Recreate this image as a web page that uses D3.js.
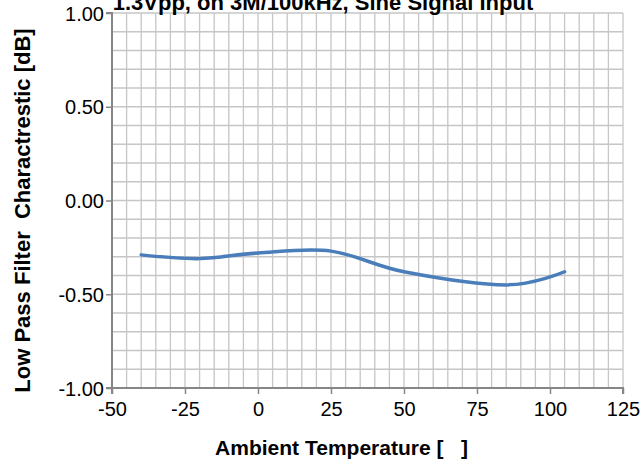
<!DOCTYPE html>
<html>
<head>
<meta charset="utf-8">
<script src="https://cdn.jsdelivr.net/npm/d3@7"></script>
<style>
  body { margin: 0; background: #fff; }
  svg { display: block; font-family: "Liberation Sans", Arial, sans-serif; }
</style>
</head>
<body>
<script>
(function (d3) {
    'use strict';

    // temperatures [°C] and measured response [dB]
    var temps = [-40, -20, 0, 25, 50, 85, 105];
    var gains = [-0.29, -0.31, -0.28, -0.27, -0.38, -0.45, -0.38];

    var xTicks = [-50, -25, 0, 25, 50, 75, 100, 125];
    var yTicks = [-1.0, -0.5, 0.0, 0.5, 1.0];

    var chartTitle = "1.3Vpp, on 3M/100kHz, Sine Signal Input";
    var xTitle = "Ambient Temperature [\u00a0\u00a0\u00a0]";
    var yTitle = "Low Pass Filter\u00a0\u00a0Charactrestic [dB]";

    const W = 644, H = 466;
    const margin = { top: 13, right: 21, bottom: 78, left: 112 };
    const width = W - margin.left - margin.right;
    const height = H - margin.top - margin.bottom;

    var x = d3.scaleLinear().domain([-50, 125]).range([0, width]);
    var y = d3.scaleLinear().domain([-1, 1]).range([height, 0]);

    var svg = d3.select("body").append("svg")
        .attr("width", W)
        .attr("height", H);

    var g = svg.append("g")
        .attr("transform", "translate(" + margin.left + "," + margin.top + ")");

    // grid, every 5 degrees and every 0.1 dB
    g.append("g")
        .attr("stroke", "#c6c6c6")
        .attr("stroke-width", 1.3)
        .selectAll("line")
        .data(d3.range(-45, 126, 5))
        .enter().append("line")
        .attr("x1", function (d) { return x(d); })
        .attr("x2", function (d) { return x(d); })
        .attr("y1", 0)
        .attr("y2", height);

    g.append("g")
        .attr("stroke", "#c6c6c6")
        .attr("stroke-width", 1.3)
        .selectAll("line")
        .data(d3.range(-9, 11).map(function (i) { return i / 10; }))
        .enter().append("line")
        .attr("x1", 0)
        .attr("x2", width)
        .attr("y1", function (d) { return y(d); })
        .attr("y2", function (d) { return y(d); });

    // plain hyphen for negatives, like the original sheet
    var fmt2 = function (d) { return d3.format(".2f")(d).replace("\u2212", "-"); };
    var fmt0 = function (d) { return String(d); };

    var xAxis = g.append("g")
        .attr("transform", "translate(0," + height + ")")
        .call(d3.axisBottom(x).tickValues(xTicks).tickSize(6).tickPadding(8)
            .tickFormat(fmt0));

    var yAxis = g.append("g")
        .call(d3.axisLeft(y).tickValues(yTicks).tickSize(6).tickPadding(2)
            .tickFormat(fmt2));

    [xAxis, yAxis].forEach(function (a) {
        a.select(".domain").attr("stroke", "#868686").attr("stroke-width", 2);
        a.selectAll(".tick line").attr("stroke", "#868686").attr("stroke-width", 1.5);
        a.selectAll("text")
            .attr("fill", "#000")
            .style("font-size", "20px")
            .style("font-family", "Liberation Sans, Arial, sans-serif");
    });
    yAxis.selectAll("text").attr("dy", "0.35em");
    xAxis.select(".domain").attr("d", "M0,6V0H" + width + "V6");
    yAxis.select(".domain").attr("d", "M-6,0H0V" + height + "H-6");

    // data line
    var line = d3.line()
        .x(function (d, i) { return x(temps[i]); })
        .y(function (d) { return y(d); })
        .curve(d3.curveCardinal.tension(0));

    g.append("path")
        .datum(gains)
        .attr("fill", "none")
        .attr("stroke", "#4a7ebb")
        .attr("stroke-width", 3.5)
        .attr("stroke-linecap", "round")
        .attr("d", line);

    // titles
    svg.append("text")
        .attr("x", 323)
        .attr("y", 10)
        .attr("text-anchor", "middle")
        .attr("font-weight", "bold")
        .attr("font-size", 22)
        .text(chartTitle);

    svg.append("text")
        .attr("x", margin.left + width / 2 - 26)
        .attr("y", 455)
        .attr("text-anchor", "middle")
        .attr("font-weight", "bold")
        .attr("font-size", 21)
        .text(xTitle);

    svg.append("text")
        .attr("transform", "translate(30," + (margin.top + height / 2 + 10) + ") rotate(-90)")
        .attr("text-anchor", "middle")
        .attr("font-weight", "bold")
        .attr("font-size", 22)
        .text(yTitle);

})(d3);
</script>
</body>
</html>
